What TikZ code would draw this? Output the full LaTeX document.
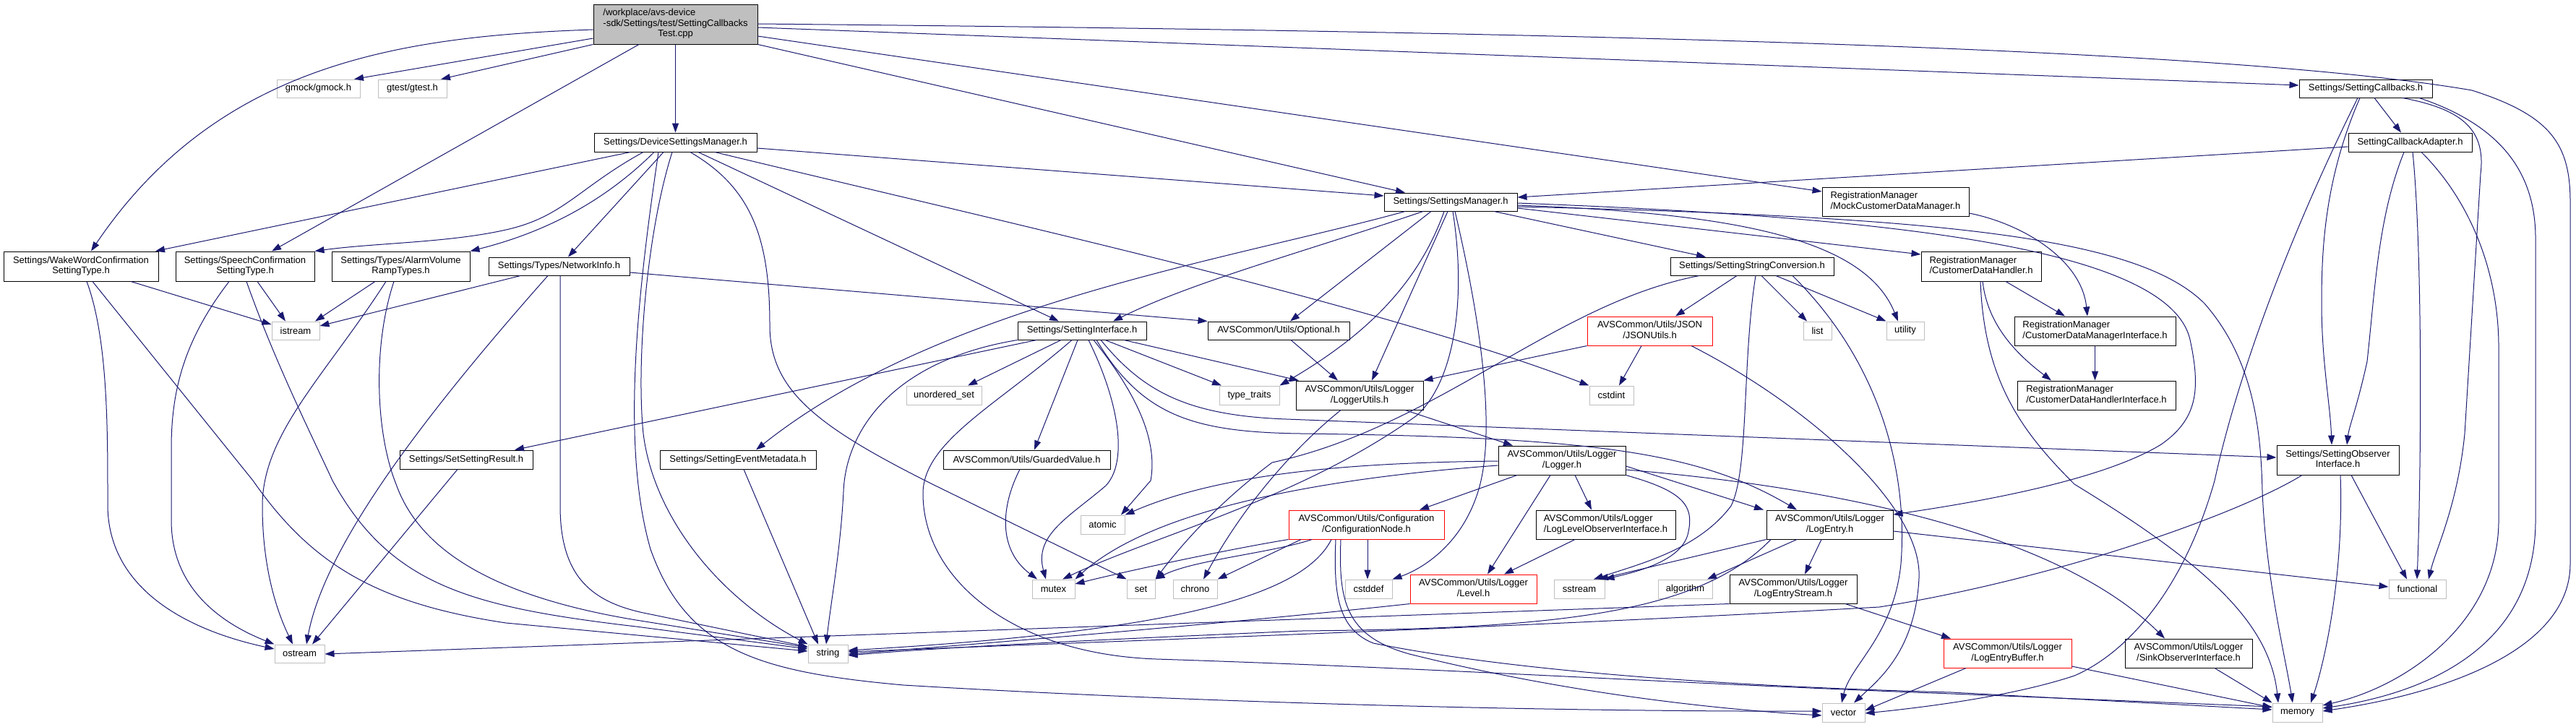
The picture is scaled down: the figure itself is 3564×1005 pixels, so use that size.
\documentclass[tikz,border=0pt]{standalone}
\usepackage{fontspec}
\setmainfont{Liberation Sans}
\usetikzlibrary{arrows.meta,calc}
\definecolor{edgec}{HTML}{191970}
\definecolor{grayb}{HTML}{BFBFBF}
\definecolor{redb}{HTML}{FF0000}
\tikzset{
  nd/.style={draw=black, line width=1pt, fill=white, inner sep=0pt, font=\fontsize{13}{14.5}\selectfont, align=center},
  sys/.style={nd, draw=grayb},
  trunc/.style={nd, draw=redb},
  rootnd/.style={nd, fill=grayb},
  e/.style={draw=edgec, line width=1pt, -{Triangle[length=13pt,width=9pt]}},
}
\newcommand{\mybox}[7]{\node[#6, minimum width={(#4-#2)*1pt}, minimum height={(#5-#3)*1pt}] (#1) at ({(#2+#4)/2},{(#3+#5)/2}) {#7};}
\newcommand{\twoln}[2]{\begin{tabular}{@{}l@{}}#1\\\multicolumn{1}{@{}c@{}}{#2}\end{tabular}}
\newcommand{\threeln}[3]{\begin{tabular}{@{}l@{}}#1\\#2\\\multicolumn{1}{@{}c@{}}{#3}\end{tabular}}
\begin{document}
\begin{tikzpicture}[x=1pt,y=-1pt]
\fill[white] (0,0) rectangle (3564,1005);
\useasboundingbox (0,0) rectangle (3564,1005);
% ---------------- nodes ----------------
\mybox{R}{821}{6}{1048}{61}{rootnd}{\threeln{/workplace/avs-device}{-sdk/Settings/test/SettingCallbacks}{Test.cpp}}
\mybox{ngmock}{383}{110}{498}{135}{sys}{gmock/gmock.h}
\mybox{ngtest}{523}{110}{618}{135}{sys}{gtest/gtest.h}
\mybox{dsm}{822}{184}{1047}{210}{nd}{Settings/DeviceSettingsManager.h}
\mybox{sm}{1915}{267}{2099}{292}{nd}{Settings/SettingsManager.h}
\mybox{mock}{2521}{259}{2724}{299}{nd}{\twoln{RegistrationManager}{/MockCustomerDataManager.h}}
\mybox{scb}{3181}{110}{3365}{135}{nd}{Settings/SettingCallbacks.h}
\mybox{adapter}{3249}{184}{3420}{210}{nd}{SettingCallbackAdapter.h}
\mybox{ww}{5}{348}{219}{389}{nd}{\twoln{Settings/WakeWordConfirmation}{SettingType.h}}
\mybox{sp}{243}{348}{435}{389}{nd}{\twoln{Settings/SpeechConfirmation}{SettingType.h}}
\mybox{alarm}{459}{348}{650}{389}{nd}{\twoln{Settings/Types/AlarmVolume}{RampTypes.h}}
\mybox{ni}{676}{356}{871}{381}{nd}{Settings/Types/NetworkInfo.h}
\mybox{ssc}{2311}{356}{2537}{381}{nd}{Settings/SettingStringConversion.h}
\mybox{cdh}{2658}{348}{2824}{389}{nd}{\twoln{RegistrationManager}{/CustomerDataHandler.h}}
\mybox{nistream}{376}{445}{442}{470}{sys}{istream}
\mybox{si}{1408}{445}{1586}{470}{nd}{Settings/SettingInterface.h}
\mybox{opt}{1671}{445}{1867}{470}{nd}{AVSCommon/Utils/Optional.h}
\mybox{json}{2196}{438}{2369}{478}{trunc}{\twoln{AVSCommon/Utils/JSON}{/JSONUtils.h}}
\mybox{nlist}{2495}{445}{2534}{470}{sys}{list}
\mybox{nutil}{2610}{445}{2662}{470}{sys}{utility}
\mybox{cdmi}{2787}{438}{3010}{478}{nd}{\twoln{RegistrationManager}{/CustomerDataManagerInterface.h}}
\mybox{nus}{1254}{534}{1358}{560}{sys}{unordered\_set}
\mybox{ntt}{1687}{534}{1770}{560}{sys}{type\_traits}
\mybox{lu}{1793}{527}{1969}{567}{nd}{\twoln{AVSCommon/Utils/Logger}{/LoggerUtils.h}}
\mybox{ncstdint}{2199}{534}{2260}{560}{sys}{cstdint}
\mybox{cdhi}{2791}{527}{3010}{567}{nd}{\twoln{RegistrationManager}{/CustomerDataHandlerInterface.h}}
\mybox{ssr}{553}{623}{737}{649}{nd}{Settings/SetSettingResult.h}
\mybox{sem}{913}{623}{1129}{649}{nd}{Settings/SettingEventMetadata.h}
\mybox{gv}{1305}{623}{1536}{649}{nd}{AVSCommon/Utils/GuardedValue.h}
\mybox{logger}{2073}{617}{2249}{657}{nd}{\twoln{AVSCommon/Utils/Logger}{/Logger.h}}
\mybox{soi}{3150}{616}{3319}{657}{nd}{\twoln{Settings/SettingObserver}{Interface.h}}
\mybox{conf}{1783}{706}{1998}{746}{trunc}{\twoln{AVSCommon/Utils/Configuration}{/ConfigurationNode.h}}
\mybox{lloi}{2125}{706}{2318}{746}{nd}{\twoln{AVSCommon/Utils/Logger}{/LogLevelObserverInterface.h}}
\mybox{le}{2444}{706}{2619}{746}{nd}{\twoln{AVSCommon/Utils/Logger}{/LogEntry.h}}
\mybox{natomic}{1495}{713}{1556}{739}{sys}{atomic}
\mybox{nmutex}{1428}{802}{1487}{828}{sys}{mutex}
\mybox{nset}{1559}{802}{1598}{828}{sys}{set}
\mybox{nchrono}{1623}{802}{1684}{828}{sys}{chrono}
\mybox{ncstddef}{1861}{802}{1926}{828}{sys}{cstddef}
\mybox{level}{1951}{795}{2126}{835}{trunc}{\twoln{AVSCommon/Utils/Logger}{/Level.h}}
\mybox{nsstream}{2150}{802}{2220}{828}{sys}{sstream}
\mybox{nalgo}{2294}{802}{2369}{828}{sys}{algorithm}
\mybox{les}{2393}{795}{2569}{835}{nd}{\twoln{AVSCommon/Utils/Logger}{/LogEntryStream.h}}
\mybox{nfunc}{3305}{802}{3384}{828}{sys}{functional}
\mybox{leb}{2689}{884}{2866}{924}{trunc}{\twoln{AVSCommon/Utils/Logger}{/LogEntryBuffer.h}}
\mybox{sinko}{2940}{884}{3116}{924}{nd}{\twoln{AVSCommon/Utils/Logger}{/SinkObserverInterface.h}}
\mybox{nostream}{380}{892}{449}{917}{sys}{ostream}
\mybox{nstring}{1118}{892}{1173}{917}{sys}{string}
\mybox{nvector}{2521}{973}{2580}{999}{sys}{vector}
\mybox{nmemory}{3144}{973}{3213}{999}{sys}{memory}
% ---------------- edges ----------------
% root
\draw[e] (R.west |- 0,53) -- (ngmock.north -| 490,0);
\draw[e] (R.south west) -- (ngtest.north -| 610,0);
\draw[e] (R.west |- 0,41) .. controls (550,50) and (300,90) .. (ww.north -| 126,0);
\draw[e] (R.south -| 884,0) -- (sp.north -| 376,0);
\draw[e] (R) -- (dsm);
\draw[e] (R.south east) -- (sm.north -| 1944,0);
\draw[e] (R.east |- 0,50) -- (mock.west |- 0,265);
\draw[e] (R.east |- 0,38) -- (scb.west |- 0,118);
\draw[e] (R.east |- 0,33) .. controls (2300,45) and (3100,70) .. (3420,125) .. controls (3530,160) and (3556,200) .. (3556,280) -- (3556,780) .. controls (3556,900) and (3380,960) .. (nmemory.east |- 0,984);
% DeviceSettingsManager
\draw[e] (dsm.south -| 872,0) -- (ww.north -| 215,0);
\draw[e] (dsm.south -| 890,0) .. controls (800,260) and (780,300) .. (700,318) .. controls (620,336) and (520,336) .. (sp.north east);
\draw[e] (dsm.south -| 905,0) .. controls (840,275) and (760,320) .. (alarm.north east);
\draw[e] (dsm.south -| 918,0) -- (ni.north -| 786,0);
\draw[e] (dsm.east |- 0,205) -- (sm.west |- 0,271);
\draw[e] (dsm.south -| 966,0) -- (si.north -| 1465,0);
\draw[e] (dsm.south -| 989,0) .. controls (1400,310) and (1900,420) .. (ncstdint.north west);
\draw[e] (dsm.south -| 955,0) .. controls (1040,260) and (1065,330) .. (1065,450) .. controls (1065,540) and (1130,590) .. (1290,670) -- (nset.north west);
\draw[e] (dsm.south -| 930,0) .. controls (895,320) and (880,500) .. (890,600) .. controls (905,720) and (1000,830) .. (nstring.north west);
\draw[e] (dsm.south -| 911,0) .. controls (880,420) and (860,620) .. (900,760) .. controls (950,900) and (1050,930) .. (1250,948) .. controls (1700,975) and (2200,985) .. (nvector.west |- 0,984);
% WakeWord
\draw[e] (ww.south -| 181,0) -- (nistream.west |- 0,449);
\draw[e] (ww.south -| 120,0) .. controls (150,470) and (149,600) .. (149,700) .. controls (150,810) and (250,870) .. (nostream.west |- 0,898);
\draw[e] (ww.south -| 128,0) -- (350,665) .. controls (430,780) and (520,835) .. (700,862) -- (nstring.west |- 0,901);
% Speech
\draw[e] (sp.south -| 356,0) -- (nistream.north -| 395,0);
\draw[e] (sp.south -| 317,0) .. controls (255,470) and (237,540) .. (237,620) -- (237,720) .. controls (237,810) and (300,860) .. (nostream.north west);
\draw[e] (sp.south -| 341,0) .. controls (380,500) and (430,600) .. (460,665) .. controls (540,810) and (650,840) .. (880,867) -- (nstring.west |- 0,898);
% AlarmVolume
\draw[e] (alarm.south -| 519,0) -- (nistream.north -| 436,0);
\draw[e] (alarm.south -| 534,0) .. controls (450,520) and (363,600) .. (363,700) .. controls (363,800) and (390,860) .. (nostream.north -| 405,0);
\draw[e] (alarm.south -| 545,0) .. controls (515,480) and (520,600) .. (548,670) .. controls (580,760) and (680,825) .. (880,858) -- (nstring.west |- 0,896);
% NetworkInfo
\draw[e] (ni.south -| 720,0) -- (nistream.east |- 0,451);
\draw[e] (ni.south -| 758,0) .. controls (600,560) and (450,750) .. (nostream.north -| 424,0);
\draw[e] (ni.south -| 775,0) -- (775,700) .. controls (775,800) and (820,835) .. (900,850) -- (nstring.west |- 0,895);
\draw[e] (ni.east |- 0,377) -- (opt.north west);
% small ones
\draw[e] (ssr.south -| 633,0) -- (nostream.north -| 432,0);
\draw[e] (sem.south -| 1029,0) -- (nstring.north -| 1132,0);
\draw[e] (gv.south -| 1411,0) .. controls (1385,700) and (1380,760) .. (nmutex.north -| 1435,0);
% SettingInterface
\draw[e] (si.south -| 1434,0) -- (ssr.north -| 712,0);
\draw[e] (si.south west) .. controls (1230,500) and (1170,600) .. (1167,680) .. controls (1163,760) and (1150,830) .. (nstring.north -| 1143,0);
\draw[e] (si.south -| 1468,0) -- (nus.north -| 1339,0);
\draw[e] (si.south -| 1491,0) -- (gv.north -| 1431,0);
\draw[e] (si.south -| 1506,0) .. controls (1550,560) and (1560,640) .. (1530,672) .. controls (1480,715) and (1430,740) .. (nmutex.north -| 1447,0);
\draw[e] (si.south -| 1513,0) .. controls (1585,560) and (1600,620) .. (1592,665) -- (natomic.north -| 1551,0);
\draw[e] (si.south -| 1529,0) -- (ntt.north -| 1690,0);
\draw[e] (si.south -| 1555,0) -- (lu.north -| 1797,0);
\draw[e] (si.south -| 1523,0) .. controls (1580,540) and (1640,575) .. (1780,580) -- (soi.west |- 0,633);
\draw[e] (si.south -| 1517,0) .. controls (1580,575) and (1650,598) .. (1800,600) .. controls (2200,605) and (2350,625) .. (le.north -| 2486,0);
\draw[e] (si.south -| 1483,0) .. controls (1380,560) and (1280,610) .. (1277,680) .. controls (1275,800) and (1400,905) .. (1600,912) .. controls (2000,925) and (2300,945) .. (2700,960) -- (nmemory.west |- 0,978);
% Optional
\draw[e] (opt.south -| 1786,0) -- (lu.north -| 1851,0);
% SettingsManager
\draw[e] (sm.south -| 1944,0) .. controls (1700,360) and (1300,420) .. (sem.north -| 1046,0);
\draw[e] (sm.south -| 1969,0) .. controls (1800,350) and (1650,390) .. (si.north -| 1540,0);
\draw[e] (sm.south -| 1980,0) -- (opt.north -| 1785,0);
\draw[e] (sm.south -| 1998,0) .. controls (1960,400) and (1880,470) .. (ntt.north east);
\draw[e] (sm.south -| 2003,0) -- (lu.north -| 1898,0);
\draw[e] (sm.south -| 2010,0) .. controls (2030,420) and (2010,530) .. (1960,575) .. controls (1800,690) and (1600,740) .. (nmutex.north -| 1470,0);
\draw[e] (sm.south -| 2013,0) .. controls (2050,450) and (2070,600) .. (2045,680) .. controls (2020,760) and (1960,790) .. (ncstddef.north east);
\draw[e] (sm.south -| 2067,0) -- (ssc.north -| 2360,0);
\draw[e] (sm.east |- 0,288) -- (cdh.west |- 0,352);
\draw[e] (sm.east |- 0,284) .. controls (2400,295) and (2580,330) .. (nutil.north -| 2626,0);
\draw[e] (sm.east |- 0,281) .. controls (2600,300) and (3000,340) .. (3030,470) .. controls (3045,540) and (3040,580) .. (2990,615) .. controls (2900,670) and (2700,700) .. (le.east |- 0,712);
\draw[e] (sm.east |- 0,286) .. controls (2700,300) and (2960,330) .. (3050,420) .. controls (3120,500) and (3128,600) .. (3130,680) .. controls (3135,800) and (3160,900) .. (nmemory.north -| 3172,0);
% Registration manager
\draw[e] (mock.east |- 0,295) .. controls (2800,310) and (2880,360) .. (cdmi.north -| 2888,0);
\draw[e] (cdh.south -| 2775,0) -- (cdmi.north -| 2857,0);
\draw[e] (cdh.south -| 2743,0) .. controls (2750,450) and (2790,490) .. (cdhi.north -| 2838,0);
\draw[e] (cdh.south -| 2740,0) .. controls (2745,530) and (2800,600) .. (2870,670) .. controls (3050,780) and (3140,860) .. (nmemory.north -| 3152,0);
\draw[e] (cdmi.south) -- (cdhi.north -| cdmi.south);
% SettingStringConversion
\draw[e] (ssc.south -| 2403,0) -- (json.north -| 2318,0);
\draw[e] (ssc.south -| 2437,0) -- (nlist.north -| 2500,0);
\draw[e] (ssc.south -| 2457,0) -- (nutil.north west);
\draw[e] (ssc.south -| 2351,0) .. controls (2150,420) and (1990,590) .. (1760,640) .. controls (1680,700) and (1630,760) .. (nset.north east);
\draw[e] (ssc.south -| 2429,0) .. controls (2410,500) and (2420,650) .. (2395,700) .. controls (2350,760) and (2270,780) .. (nsstream.north -| 2205,0);
\draw[e] (ssc.south -| 2480,0) .. controls (2600,500) and (2640,650) .. (2630,780) .. controls (2620,880) and (2560,920) .. (nvector.north -| 2548,0);
% JSON
\draw[e] (json.south west) -- (lu.north east);
\draw[e] (json.south -| 2271,0) -- (ncstdint.north -| 2240,0);
\draw[e] (json.south -| 2340,0) .. controls (2500,560) and (2660,700) .. (2655,800) .. controls (2650,900) and (2600,940) .. (nvector.north -| 2565,0);
% LoggerUtils
\draw[e] (lu.south -| 1944,0) -- (logger.north -| 2093,0);
\draw[e] (lu.south -| 1855,0) .. controls (1790,620) and (1720,700) .. (nchrono.north -| 1665,0);
% Logger
\draw[e] (logger.south -| 2099,0) -- (conf.north -| 1964,0);
\draw[e] (logger.south -| 2145,0) -- (level.north -| 2058,0);
\draw[e] (logger.south -| 2179,0) -- (lloi.north -| 2202,0);
\draw[e] (logger.south east) .. controls (2330,680) and (2345,700) .. (2335,740) .. controls (2325,775) and (2270,790) .. (nsstream.north east);
\draw[e] (logger.east |- 0,645) -- (le.north -| 2440,0);
\draw[e] (logger.east |- 0,650) .. controls (2550,675) and (2850,740) .. (sinko.north -| 2995,0);
\draw[e] (logger.west |- 0,638) .. controls (1900,640) and (1700,650) .. (natomic.north east);
\draw[e] (logger.west |- 0,644) .. controls (1850,660) and (1600,700) .. (nmutex.north east);
% ConfigurationNode
\draw[e] (conf.south -| 1892,0) -- (ncstddef.north -| 1892,0);
\draw[e] (conf.south west) .. controls (1700,760) and (1560,790) .. (nmutex.east |- 0,808);
\draw[e] (conf.south -| 1815,0) .. controls (1760,765) and (1650,775) .. (nset.north east);
\draw[e] (conf.south -| 1800,0) -- (nchrono.north east);
\draw[e] (conf.south -| 1842,0) .. controls (1800,830) and (1600,875) .. (nstring.east |- 0,900);
\draw[e] (conf.south -| 1855,0) .. controls (1852,830) and (1860,880) .. (1950,905) .. controls (2150,955) and (2350,980) .. (nvector.west |- 0,990);
\draw[e] (conf.south -| 1848,0) .. controls (1845,820) and (1850,870) .. (1900,890) .. controls (2100,930) and (2400,950) .. (2700,958) -- (nmemory.west |- 0,982);
% Level, LogLevelObserver
\draw[e] (level.south west) .. controls (1800,852) and (1500,880) .. (nstring.east |- 0,905);
\draw[e] (lloi.south -| 2179,0) -- (level.north -| 2081,0);
% LogEntry
\draw[e] (le.south west) -- (nsstream.north -| 2212,0);
\draw[e] (le.south -| 2486,0) -- (nalgo.north -| 2362,0);
\draw[e] (le.south -| 2520,0) -- (les.north -| 2497,0);
\draw[e] (le.south -| 2450,0) .. controls (2350,850) and (2150,870) .. (1800,873) .. controls (1500,886) and (1300,896) .. (nstring.east |- 0,907);
\draw[e] (le.east |- 0,735) -- (nfunc.west |- 0,812);
% LogEntryStream, LogEntryBuffer, SinkObserver
\draw[e] (les.south west) -- (nostream.east |- 0,905);
\draw[e] (les.south -| 2553,0) -- (leb.north -| 2699,0);
\draw[e] (leb.south -| 2720,0) -- (nvector.east |- 0,983);
\draw[e] (leb.east |- 0,922) -- (nmemory.west |- 0,979);
\draw[e] (sinko.south -| 3064,0) -- (nmemory.north west);
% SettingObserverInterface
\draw[e] (soi.south -| 3253,0) -- (nfunc.north -| 3330,0);
\draw[e] (soi.south -| 3238,0) .. controls (3243,800) and (3215,920) .. (nmemory.north -| 3197,0);
\draw[e] (soi.south -| 3185,0) .. controls (3100,710) and (2850,800) .. (2600,840) .. controls (2100,868) and (1600,885) .. (nstring.east |- 0,902);
% SettingCallbacks
\draw[e] (scb.south -| 3285,0) -- (adapter.north -| 3322,0);
\draw[e] (scb.south -| 3265,0) .. controls (3215,250) and (3212,350) .. (3212,420) .. controls (3212,500) and (3224,560) .. (soi.north -| 3226,0);
\draw[e] (scb.south -| 3262,0) .. controls (3180,300) and (3100,500) .. (3064,665) .. controls (3020,820) and (2940,905) .. (2870,935) .. controls (2780,965) and (2650,980) .. (nvector.east |- 0,987);
\draw[e] (scb.south -| 3324,0) .. controls (3400,150) and (3440,175) .. (3432,240) -- (3410,600) .. controls (3400,700) and (3370,760) .. (nfunc.north -| 3360,0);
\draw[e] (scb.south -| 3347,0) .. controls (3450,170) and (3508,230) .. (3508,330) -- (3508,720) .. controls (3508,900) and (3350,960) .. (nmemory.east |- 0,980);
% SettingCallbackAdapter
\draw[e] (adapter.west |- 0,203) -- (sm.east |- 0,273);
\draw[e] (adapter.south -| 3326,0) .. controls (3290,300) and (3286,400) .. (3275,500) .. controls (3262,560) and (3250,590) .. (soi.north -| 3247,0);
\draw[e] (adapter.south -| 3338,0) .. controls (3352,350) and (3350,650) .. (nfunc.north -| 3344,0);
\draw[e] (adapter.south -| 3350,0) .. controls (3420,280) and (3457,380) .. (3457,480) -- (3457,720) .. controls (3457,860) and (3330,950) .. (nmemory.east |- 0,976);
\end{tikzpicture}
\end{document}
